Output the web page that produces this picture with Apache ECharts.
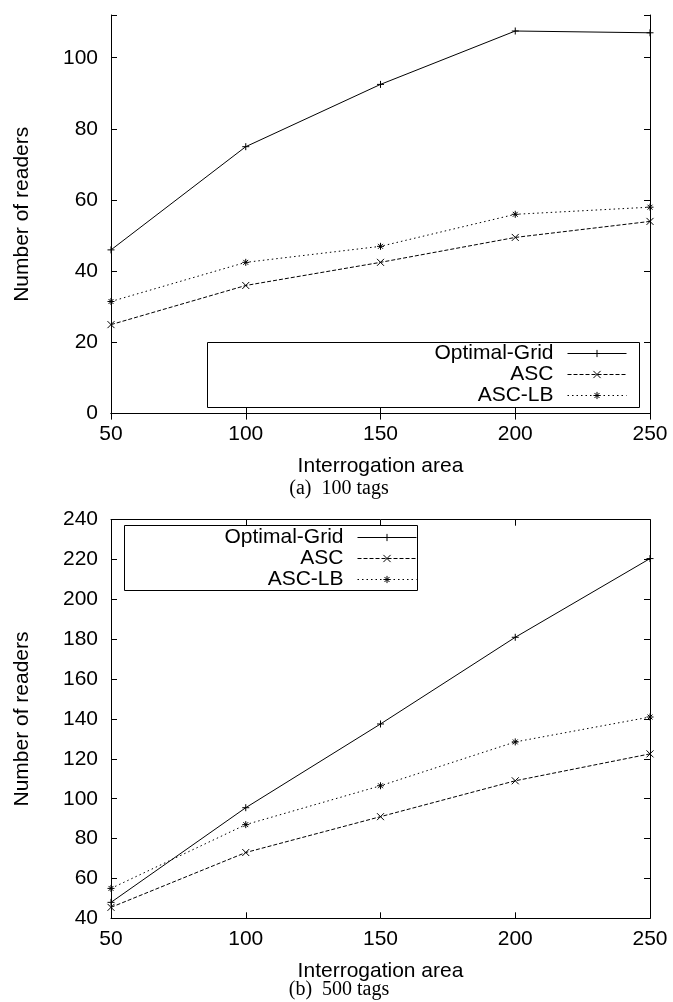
<!DOCTYPE html>
<html>
<head>
<meta charset="utf-8">
<script src="https://cdn.jsdelivr.net/npm/echarts@6/dist/echarts.min.js"></script>
<style>
html,body{margin:0;padding:0;background:#fff;}
#chart{width:673px;height:1002px;}
</style>
</head>
<body>
<div id="chart"></div>
<script>
// ---- data ----
const areas = [50, 100, 150, 200, 250];
const seriesNames = ['Optimal-Grid', 'ASC', 'ASC-LB'];
// (a) 100 tags
const optimalA = [46, 75, 92.5, 107.5, 107];
const ascA = [25, 36, 42.5, 49.5, 54];
const asclbA = [31.5, 42.5, 47, 56, 58];
// (b) 500 tags
const optimalB = [48, 95.5, 137.5, 181, 220.5];
const ascB = [45.5, 73, 91, 109, 122.5];
const asclbB = [55, 87, 106.5, 128.5, 141];
const captions = ['(a)  100 tags', '(b)  500 tags'];
const xTitle = 'Interrogation area';
const yTitle = 'Number of readers';

// ---- styles ----
const FONT = 'Liberation Sans';
const SERIF = 'Liberation Serif';
const FS = 21;
const symPlus = 'path://M0,5L10,5M5,0L5,10';
const symCross = 'path://M0,0L10,10M10,0L0,10';
const symStar = 'path://M0,5L10,5M5,0L5,10M1.5,1.5L8.5,8.5M8.5,1.5L1.5,8.5';
const styles = [
  {symbol: symPlus, type: 'solid'},
  {symbol: symCross, type: [4, 2]},
  {symbol: symStar, type: [1.5, 3]}
];

const grids = [
  {left: 111, right: 23, top: 15, height: 398.6},
  {left: 111, right: 23, top: 519.7, height: 398.6}
];
const yRanges = [{min: 0, max: 112}, {min: 40, max: 240}];

function pairs(vals) { return areas.map((a, i) => [a, vals[i]]); }

const xAxes = [], yAxes = [];
[0, 1].forEach(g => {
  xAxes.push({
    type: 'value', gridIndex: g, min: 50, max: 250, interval: 50,
    position: 'bottom',
    name: xTitle, nameLocation: 'middle', nameGap: 42,
    nameTextStyle: {fontFamily: FONT, fontSize: FS, color: '#000'},
    axisLine: {show: true, lineStyle: {color: '#000', width: 1}},
    axisTick: {show: true, inside: true, length: 6, lineStyle: {color: '#000'}},
    axisLabel: {fontFamily: FONT, fontSize: FS, color: '#000', margin: 10},
    splitLine: {show: false}
  });
  xAxes.push({
    type: 'value', gridIndex: g, min: 50, max: 250, interval: 50,
    position: 'top',
    axisLine: {show: true, lineStyle: {color: '#000', width: 1}},
    axisTick: {show: true, inside: true, length: 6, lineStyle: {color: '#000'}},
    axisLabel: {show: false},
    splitLine: {show: false}
  });
  yAxes.push({
    type: 'value', gridIndex: g, min: yRanges[g].min, max: yRanges[g].max, interval: 20,
    position: 'left',
    name: yTitle, nameLocation: 'middle', nameGap: 78, nameRotate: 90,
    nameTextStyle: {fontFamily: FONT, fontSize: FS, color: '#000'},
    axisLine: {show: true, lineStyle: {color: '#000', width: 1}},
    axisTick: {show: true, inside: true, length: 6, lineStyle: {color: '#000'}},
    axisLabel: {fontFamily: FONT, fontSize: FS, color: '#000', margin: 13,
      formatter: v => (v % 20 === 0 ? String(v) : '')},
    splitLine: {show: false}
  });
  yAxes.push({
    type: 'value', gridIndex: g, min: yRanges[g].min, max: yRanges[g].max, interval: 20,
    position: 'right',
    axisLine: {show: true, lineStyle: {color: '#000', width: 1}},
    axisTick: {show: true, inside: true, length: 6, lineStyle: {color: '#000'}},
    axisLabel: {show: false},
    splitLine: {show: false}
  });
});

const dataSets = [[optimalA, ascA, asclbA], [optimalB, ascB, asclbB]];
const series = [];
[0, 1].forEach(g => {
  dataSets[g].forEach((vals, k) => {
    series.push({
      type: 'line', name: seriesNames[k],
      xAxisIndex: g * 2, yAxisIndex: g * 2,
      data: pairs(vals),
      symbol: styles[k].symbol, symbolSize: 7,
      lineStyle: {color: '#000', width: 1, type: styles[k].type},
      itemStyle: {color: 'none', borderColor: '#000', borderWidth: 1},
      emphasis: {disabled: true},
      z: 3
    });
  });
});

function legend(top, right) {
  return {
    orient: 'vertical', align: 'right', top: top, right: right, padding: 0,
    itemWidth: 59, itemHeight: 9, itemGap: 0, selectedMode: false,
    textStyle: {fontFamily: FONT, fontSize: FS, color: '#000', lineHeight: 20, padding: [0, 9, 0, 0]},
    itemStyle: {color: 'none', borderColor: '#000', borderWidth: 1},
    lineStyle: {width: 1, color: '#000'},
    data: seriesNames
  };
}

const chart = echarts.init(document.getElementById('chart'), null, {renderer: 'canvas'});
chart.setOption({
  animation: false,
  backgroundColor: '#fff',
  grid: grids,
  xAxis: xAxes,
  yAxis: yAxes,
  legend: [legend(343, 46), legend(527, 256)],
  graphic: [
    {type: 'rect', shape: {x: 207.5, y: 342.5, width: 432, height: 65}, style: {fill: 'none', stroke: '#000', lineWidth: 1}, z: 1},
    {type: 'rect', shape: {x: 124.5, y: 525.5, width: 293, height: 65}, style: {fill: 'none', stroke: '#000', lineWidth: 1}, z: 1},
    {type: 'text', x: 339, y: 489, style: {text: captions[0], font: '20px "' + SERIF + '"', fill: '#000', textAlign: 'center', textVerticalAlign: 'middle'}},
    {type: 'text', x: 339, y: 990, style: {text: captions[1], font: '20px "' + SERIF + '"', fill: '#000', textAlign: 'center', textVerticalAlign: 'middle'}}
  ],
  series: series
});
</script>
</body>
</html>
